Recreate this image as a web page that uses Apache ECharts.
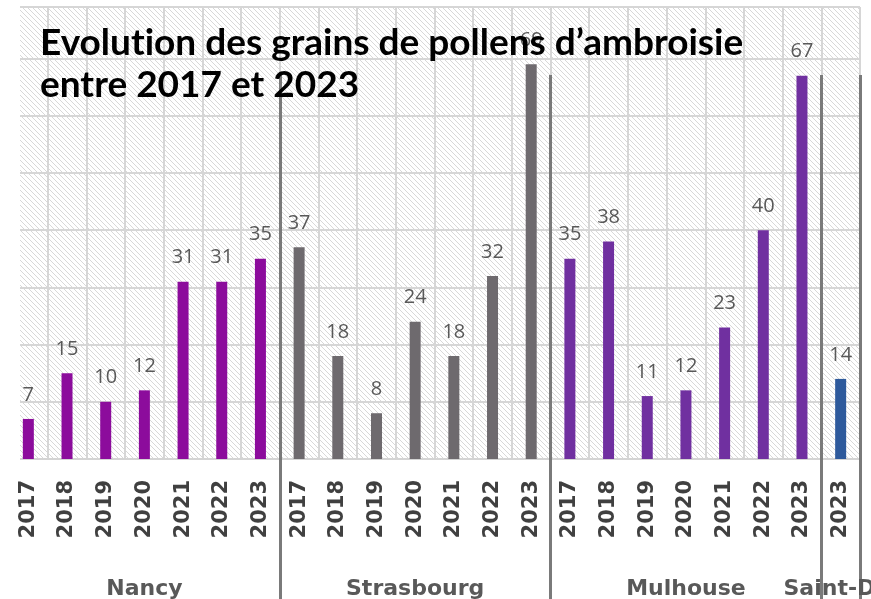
<!DOCTYPE html>
<html>
<head>
<meta charset="utf-8">
<script src="https://cdn.jsdelivr.net/npm/echarts@6/dist/echarts.min.js"></script>
<style>
  html, body { margin: 0; background: #fff; }
  #chart { width: 871px; height: 599px; }
</style>
</head>
<body>
<div id="chart"></div>
<script>
const years = ['2017', '2018', '2019', '2020', '2021', '2022', '2023'];
const saintDieYears = ['2023'];
const cities = ['Nancy', 'Strasbourg', 'Mulhouse', 'Saint-Dié'];
const nancy = [7, 15, 10, 12, 31, 31, 35];
const strasbourg = [37, 18, 8, 24, 18, 32, 69];
const mulhouse = [35, 38, 11, 12, 23, 40, 67];
const saintDie = [14];
const colors = ['#8c0c9c', '#6e6a6e', '#7030a0', '#2e5a9c'];

const groups = [
  { name: cities[0], years: years, values: nancy },
  { name: cities[1], years: years, values: strasbourg },
  { name: cities[2], years: years, values: mulhouse },
  { name: cities[3], years: saintDieYears, values: saintDie }
];

// flatten groups into one category axis + a second axis carrying the city names
const categories = [];
const groupLabels = [];
const barData = [];
const boundaries = [];
groups.forEach((g, gi) => {
  const mid = Math.floor((g.years.length - 1) / 2);
  g.years.forEach((y, i) => {
    categories.push(y);
    groupLabels.push(i === mid ? g.name : '');
    barData.push({ value: g.values[i], itemStyle: { color: colors[gi] } });
  });
  if (gi < groups.length - 1) boundaries.push(categories.length);
});

// diagonal hatch used as plot background
const hatch = document.createElement('canvas');
hatch.width = 5;
hatch.height = 5;
const hctx = hatch.getContext('2d');
hctx.fillStyle = '#fff';
hctx.fillRect(0, 0, 5, 5);
hctx.fillStyle = '#d8d8d8';
for (let i = 0; i < 5; i++) hctx.fillRect(i, i, 1, 1);

const chart = echarts.init(document.getElementById('chart'));
chart.setOption({
  animation: false,
  title: {
    // zero-width non-joiner keeps "ti" from turning into a ligature
    text: 'Evolut\u200Cion des grains de pollens d\u2019ambroisie\nentre 2017 et 2023',
    left: 40,
    top: 22,
    padding: 0,
    textStyle: {
      fontFamily: 'Lato',
      fontWeight: 'bold',
      fontSize: 37,
      lineHeight: 42,
      color: '#000'
    }
  },
  grid: {
    left: 9, right: 11, top: 7, bottom: 140,
    outerBoundsMode: 'none',
    containLabel: false,
    show: true,
    borderWidth: 0,
    backgroundColor: { image: hatch, repeat: 'repeat' }
  },
  xAxis: [
    {
      type: 'category',
      data: categories,
      axisLine: { lineStyle: { color: '#d4d4d4', width: 2 } },
      axisTick: { show: false },
      splitLine: { show: true, interval: 0, lineStyle: { color: '#d6d6d6', width: 2 } },
      axisLabel: {
        interval: 0,
        rotate: 90,
        margin: 21,
        fontFamily: 'DejaVu Sans',
        fontWeight: 'bold',
        fontSize: 21,
        color: '#404040'
      }
    },
    {
      type: 'category',
      data: groupLabels,
      position: 'bottom',
      offset: 140,
      axisLine: { show: false },
      axisTick: {
        show: true,
        inside: true,
        length: 524,
        interval: (i) => boundaries.includes(i),
        lineStyle: { color: '#7a7a7a', width: 3 }
      },
      axisLabel: {
        inside: true,
        interval: 0,
        margin: -1,
        fontFamily: 'DejaVu Sans',
        fontWeight: 'bold',
        fontSize: 22,
        color: '#595959'
      }
    }
  ],
  yAxis: {
    type: 'value',
    min: 0,
    max: 79,
    interval: 10,
    axisLabel: { show: false },
    axisLine: { show: false },
    axisTick: { show: false },
    splitLine: { lineStyle: { color: '#d6d6d6', width: 2 } }
  },
  graphic: [
    { type: 'rect', left: 0, top: 0, shape: { width: 20, height: 460 }, style: { fill: '#fff' }, z: 100 }
  ],
  series: [
    {
      type: 'bar',
      data: barData,
      barWidth: 11,
      label: {
        show: true,
        position: 'top',
        distance: 14,
        fontFamily: 'Open Sans',
        fontSize: 20,
        color: '#595959'
      }
    }
  ]
});
</script>
</body>
</html>
